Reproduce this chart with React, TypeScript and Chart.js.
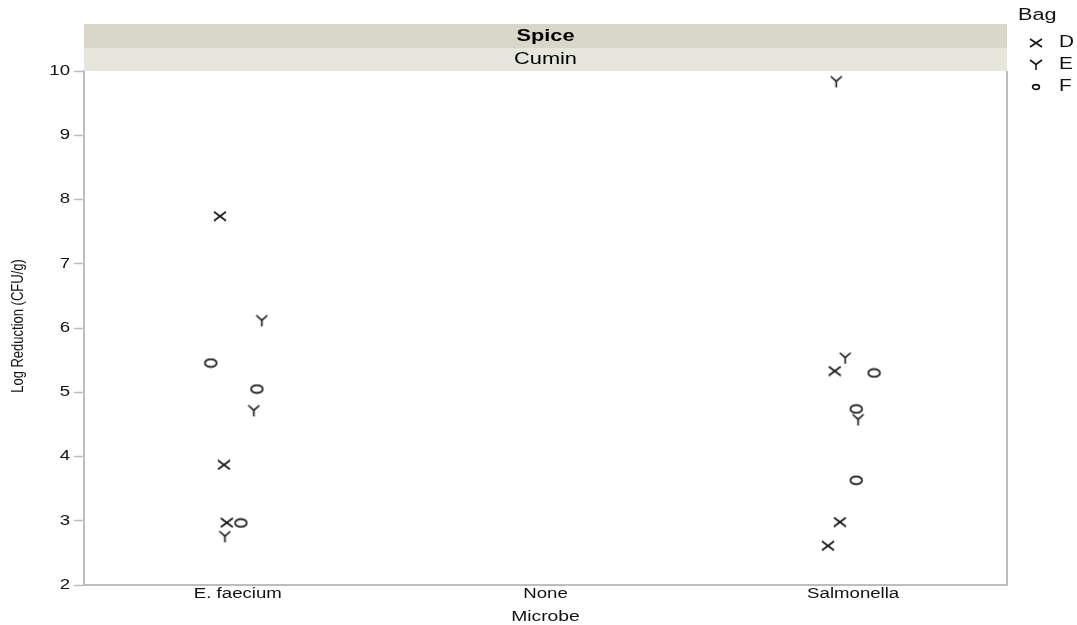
import React, { useEffect, useRef } from "react";
import { Chart, registerables } from "chart.js";

Chart.register(...registerables);

// Categories on the x axis (Microbe)
const microbes = ["E. faecium", "None", "Salmonella"];
const yTicks = [2, 3, 4, 5, 6, 7, 8, 9, 10];

// Bag D (x marker): category index + jitter, log reduction
const bagDX = [-0.058, -0.045, -0.036, 1.94, 1.957, 1.918];
const bagDY = [7.74, 3.87, 2.97, 5.33, 2.98, 2.61];

// Bag E (Y marker)
const bagEX = [0.078, 0.052, -0.042, 1.945, 1.974, 2.016];
const bagEY = [6.11, 4.71, 2.75, 9.83, 5.53, 4.57];

// Bag F (o marker)
const bagFX = [-0.088, 0.062, 0.01, 2.068, 2.01, 2.01];
const bagFY = [5.455, 5.05, 2.965, 5.3, 4.74, 3.63];

const INK = "#141414";
const AXIS = "#bdbdbd";
const FONT = "'Liberation Sans', Arial, Helvetica, sans-serif";
const WIDE = 1.36; // horizontal stretch applied to all lettering

function glyph(kind: string, w: number, h: number, lw = 1.6): HTMLCanvasElement {
  const c = document.createElement("canvas");
  c.width = w + 2;
  c.height = h + 2;
  const g = c.getContext("2d")!;
  g.strokeStyle = INK;
  g.lineWidth = lw;
  const x0 = 1, y0 = 1, x1 = w + 1, y1 = h + 1;
  const cx = (x0 + x1) / 2, cy = (y0 + y1) / 2;
  g.beginPath();
  if (kind === "x") {
    g.moveTo(x0, y0); g.lineTo(x1, y1);
    g.moveTo(x1, y0); g.lineTo(x0, y1);
  } else if (kind === "y") {
    const my = y0 + h * 0.45;
    g.moveTo(x0, y0); g.lineTo(cx, my);
    g.lineTo(x1, y0);
    g.moveTo(cx, my); g.lineTo(cx, y1);
  } else {
    g.ellipse(cx, cy, w / 2 - 0.6, h / 2 - 0.6, 0, 0, Math.PI * 2);
  }
  g.stroke();
  return c;
}

// Text with a horizontal stretch around its anchor point
function wideText(
  ctx: CanvasRenderingContext2D,
  str: string,
  x: number,
  y: number,
  font: string,
  align: CanvasTextAlign = "center",
  sx = WIDE
) {
  ctx.save();
  ctx.font = font;
  ctx.textAlign = align;
  ctx.textBaseline = "middle";
  ctx.translate(x, y);
  ctx.scale(sx, 1);
  ctx.fillText(str, 0, 0);
  ctx.restore();
}

const toPts = (xs: number[], ys: number[]) => xs.map((x, i) => ({ x, y: ys[i] }));

export default function App() {
  const ref = useRef<HTMLCanvasElement | null>(null);

  useEffect(() => {
    document.body.style.margin = "0";
    const markX = glyph("x", 12, 9);
    const markY = glyph("y", 11, 11);
    const markO = glyph("o", 13, 9);
    const legX = glyph("x", 12, 8);
    const legY = glyph("y", 12, 10);
    const legO = glyph("o", 8, 6);

    const decor = {
      id: "decor",
      beforeDatasetsDraw(chart: any) {
        const { ctx, chartArea: a, scales } = chart;
        const mid = (a.left + a.right) / 2;
        ctx.save();
        // facet strips
        ctx.fillStyle = "#d9d7c9";
        ctx.fillRect(a.left, 24, a.right - a.left, 24);
        ctx.fillStyle = "#e6e6dd";
        ctx.fillRect(a.left, 48, a.right - a.left, a.top - 48);
        ctx.fillStyle = "#000";
        wideText(ctx, "Spice", mid, 37, `bold 16px ${FONT}`);
        wideText(ctx, "Cumin", mid, 60, `16px ${FONT}`);
        // right frame line
        ctx.strokeStyle = AXIS;
        ctx.lineWidth = 2;
        ctx.beginPath();
        ctx.moveTo(a.right, a.top);
        ctx.lineTo(a.right, a.bottom + 1);
        ctx.stroke();
        // tick labels
        ctx.fillStyle = "#111";
        yTicks.forEach((v) => {
          wideText(ctx, String(v), 70, scales.y.getPixelForValue(v), `14px ${FONT}`, "right", 1.33);
        });
        microbes.forEach((m, i) => {
          wideText(ctx, m, scales.x.getPixelForValue(i), 594, `14px ${FONT}`, "center", 1.33);
        });
        // axis titles
        ctx.save();
        ctx.font = `13px ${FONT}`;
        ctx.textAlign = "center";
        ctx.textBaseline = "middle";
        ctx.translate(18, (a.top + a.bottom) / 2 - 2);
        ctx.rotate(-Math.PI / 2);
        ctx.scale(1, 1.3);
        ctx.fillText("Log Reduction (CFU/g)", 0, 0);
        ctx.restore();
        wideText(ctx, "Microbe", mid, 617, `14px ${FONT}`, "center", 1.38);
        // legend
        wideText(ctx, "Bag", 1018, 16, `16px ${FONT}`, "left", 1.35);
        const rows: [HTMLCanvasElement, string, number][] = [
          [legX, "D", 43],
          [legY, "E", 65],
          [legO, "F", 87],
        ];
        rows.forEach(([img, lab, y]) => {
          ctx.drawImage(img, 1036 - img.width / 2, y - img.height / 2);
          wideText(ctx, lab, 1059, y, `16px ${FONT}`, "left", 1.3);
        });
        ctx.restore();
      },
    };

    const chart = new Chart(ref.current!, {
      type: "scatter",
      data: {
        datasets: [
          { label: "D", data: toPts(bagDX, bagDY), pointStyle: markX as any },
          { label: "E", data: toPts(bagEX, bagEY), pointStyle: markY as any },
          { label: "F", data: toPts(bagFX, bagFY), pointStyle: markO as any },
        ],
      },
      options: {
        animation: false,
        responsive: false,
        devicePixelRatio: 1,
        layout: { padding: { top: 71, right: 70, left: 0, bottom: 0 } },
        plugins: { legend: { display: false }, tooltip: { enabled: false } },
        elements: { point: { radius: 6 } },
        scales: {
          x: {
            type: "linear",
            min: -0.5,
            max: 2.5,
            afterBuildTicks: (s: any) => {
              s.ticks = microbes.map((_, i) => ({ value: i }));
            },
            afterFit: (s: any) => {
              s.height = 40;
            },
            ticks: { display: false },
            grid: { display: true, drawOnChartArea: false, drawTicks: false },
            border: { color: AXIS, width: 2 },
          },
          y: {
            type: "linear",
            min: 2,
            max: 10,
            afterBuildTicks: (s: any) => {
              s.ticks = yTicks.map((v) => ({ value: v }));
            },
            afterFit: (s: any) => {
              s.width = 84;
            },
            ticks: { display: false },
            grid: { drawOnChartArea: false, tickLength: 10, color: AXIS, tickWidth: 1.5 },
            border: { color: AXIS, width: 2 },
          },
        },
      },
      plugins: [decor],
    });
    return () => chart.destroy();
  }, []);

  return (
    <div style={{ width: 1077, height: 625 }}>
      <canvas ref={ref} width={1077} height={625} style={{ display: "block" }} />
    </div>
  );
}
